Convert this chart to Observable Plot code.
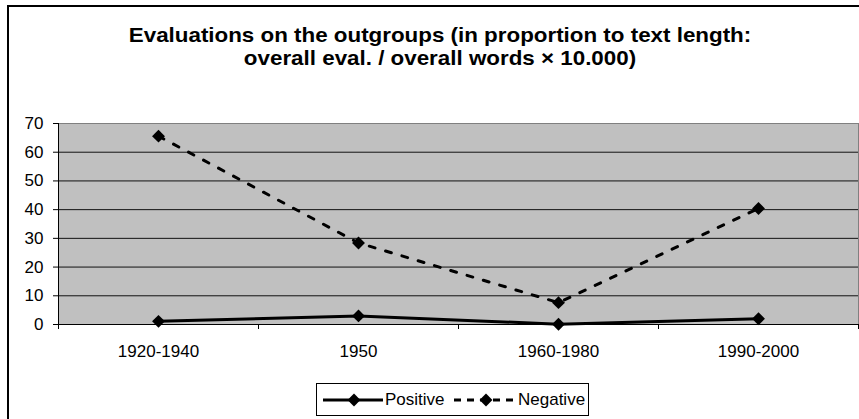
<!DOCTYPE html>
<html>
<head>
<meta charset="utf-8">
<script src="https://cdn.jsdelivr.net/npm/d3@7"></script>
<script src="https://cdn.jsdelivr.net/npm/@observablehq/plot@0.6"></script>
<style>
  html, body { margin: 0; padding: 0; background: #fff; }
  #wrap { position: relative; width: 859px; height: 419px; overflow: hidden; font-family: "Liberation Sans", Arial, sans-serif; }
  #border { position: absolute; left: 7px; top: 5px; width: 900px; height: 500px; border-left: 2px solid #000; border-top: 2px solid #000; box-sizing: border-box; }
  #title { position: absolute; left: 0; top: 22.7px; width: 880px; text-align: center; font-weight: bold; font-size: 21px; line-height: 23.5px; color: #000; transform: scaleX(1.065); transform-origin: 440px 0; white-space: nowrap; }
  #chart { position: absolute; left: 0; top: 0; }
  #legend { position: absolute; left: 0; top: 0; }
</style>
</head>
<body>
<div id="wrap">
  <div id="border"></div>
  <div id="chart"></div>
  <div id="title">Evaluations on the outgroups (in proportion to text length:<br>overall eval. / overall words × 10.000)</div>
  <div id="legend"></div>
</div>
<script>
const categories = ["1920-1940", "1950", "1960-1980", "1990-2000"];
const positive = [1.1, 3.0, 0.1, 2.0];
const negative = [65.6, 28.4, 7.6, 40.4];
const yTicks = [0, 10, 20, 30, 40, 50, 60, 70];
const gridValues = [10, 20, 30, 40, 50, 60];
const seriesNames = ["Positive", "Negative"];

const posData = categories.map((c, i) => ({i, cat: c, v: positive[i]}));
const negData = categories.map((c, i) => ({i, cat: c, v: negative[i]}));
const boundaries = d3.range(categories.length + 1).map(k => k - 0.5);

const chart = Plot.plot({
  width: 859,
  height: 419,
  marginLeft: 58,
  marginRight: 1,
  marginTop: 123,
  marginBottom: 95,
  style: {fontFamily: '"Liberation Sans", Arial, sans-serif', fontSize: "17px", background: "transparent", color: "#000"},
  x: {type: "linear", domain: [-0.5, categories.length - 0.5]},
  y: {domain: [0, 70]},
  marks: [
    Plot.frame({fill: "#c0c0c0", stroke: "#808080"}),
    Plot.ruleY(gridValues, {stroke: "#111", strokeWidth: 1}),
    Plot.ruleX([-0.5], {stroke: "#000"}),
    Plot.ruleY([0], {stroke: "#000"}),
    Plot.axisY({ticks: yTicks, tickSize: 5, tickPadding: 10, fontSize: 17, label: null, stroke: "#000"}),
    Plot.axisX({ticks: boundaries, tickSize: 5, tickFormat: () => "", label: null, stroke: "#000"}),
    Plot.axisX({ticks: d3.range(categories.length), tickSize: 0, tickPadding: 20, fontSize: 17, tickFormat: i => categories[i], label: null}),
    Plot.line(negData, {x: "i", y: "v", stroke: "#000", strokeWidth: 3, strokeDasharray: "6,11"}),
    Plot.line(posData, {x: "i", y: "v", stroke: "#000", strokeWidth: 3}),
    Plot.dot(negData, {x: "i", y: "v", symbol: "diamond2", fill: "#000", r: 5.8}),
    Plot.dot(posData, {x: "i", y: "v", symbol: "diamond2", fill: "#000", r: 5.8})
  ]
});
document.getElementById("chart").appendChild(chart);

// Legend
const lg = d3.select("#legend").append("svg").attr("width", 859).attr("height", 419);
lg.append("rect").attr("x", 316.5).attr("y", 383.5).attr("width", 272).attr("height", 32)
  .attr("fill", "#fff").attr("stroke", "#000").attr("stroke-width", 1);
const items = [
  {name: seriesNames[0], x0: 323, x1: 383, dx: 354, tx: 385, dash: null},
  {name: seriesNames[1], x0: 454, x1: 516, dx: 486, tx: 518, dash: "7,6"}
];
const diamond = d3.symbol(d3.symbolDiamond2, Math.PI * 5.8 * 5.8)();
for (const it of items) {
  const l = lg.append("line").attr("x1", it.x0).attr("x2", it.x1).attr("y1", 400).attr("y2", 400)
    .attr("stroke", "#000").attr("stroke-width", 3);
  if (it.dash) l.attr("stroke-dasharray", it.dash);
  lg.append("path").attr("d", diamond).attr("transform", `translate(${it.dx},400)`).attr("fill", "#000");
  lg.append("text").attr("x", it.tx).attr("y", 404.5).attr("font-size", 17)
    .attr("font-family", '"Liberation Sans", Arial, sans-serif').attr("fill", "#000").text(it.name);
}
</script>
</body>
</html>
